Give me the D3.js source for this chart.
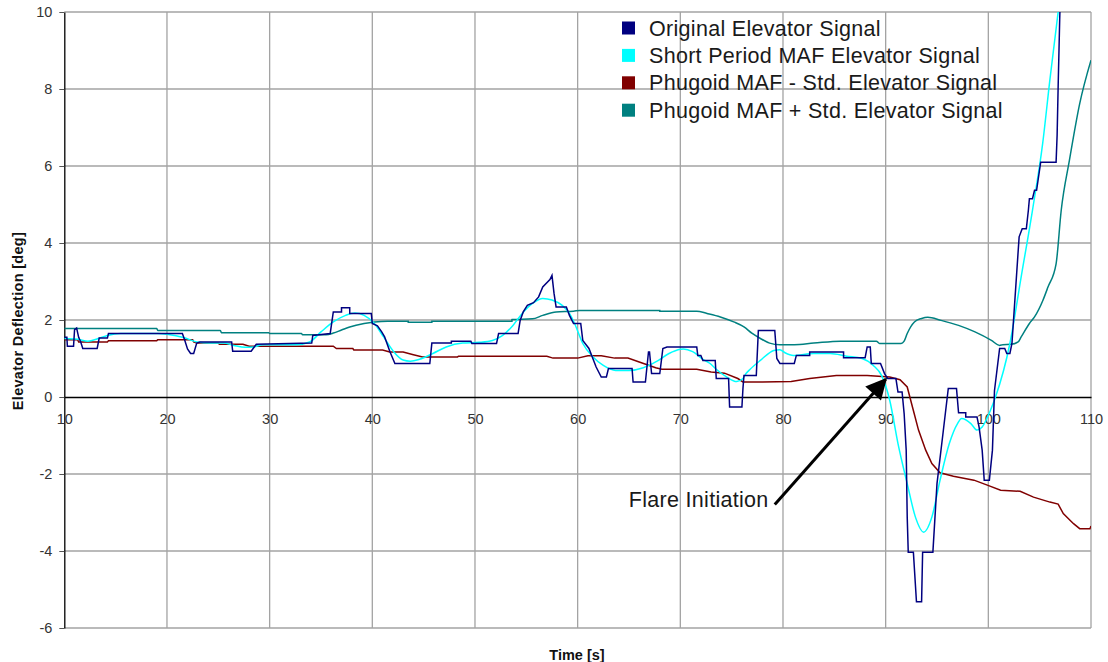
<!DOCTYPE html>
<html>
<head>
<meta charset="utf-8">
<script src="https://cdn.jsdelivr.net/npm/d3@7"></script>
<style>
  body { margin: 0; background: #fff; }
  text { font-family: "Liberation Sans", Arial, sans-serif; }
</style>
</head>
<body>
<script>
// series names + colours
var seriesNames = ["Original Elevator Signal", "Short Period MAF Elevator Signal",
                   "Phugoid MAF - Std. Elevator Signal", "Phugoid MAF + Std. Elevator Signal"];
var seriesColors = ["#000080", "#00ffff", "#800000", "#008080"];

var xTicks = [10, 20, 30, 40, 50, 60, 70, 80, 90, 100, 110];
var yTicks = [-6, -4, -2, 0, 2, 4, 6, 8, 10];

// original elevator signal [time, deg]
var original = [
  [10.0,1.55],[10.25,1.55],[10.3,1.32],[10.9,1.32],[11.0,1.75],[11.2,1.79],[11.4,1.55],[11.6,1.43],
  [11.8,1.26],[13.2,1.26],[13.4,1.53],[14.2,1.53],[14.3,1.65],[21.5,1.65],[21.7,1.50],[22.0,1.25],
  [22.3,1.13],[22.6,1.13],[22.9,1.40],[23.2,1.43],[26.3,1.43],[26.4,1.19],[28.2,1.19],[28.5,1.30],
  [28.7,1.37],[34.1,1.40],[34.2,1.60],[35.9,1.65],[36.2,2.21],[37.0,2.21],[37.0,2.32],[37.8,2.32],
  [37.8,2.17],[39.9,2.17],[40.0,1.91],[40.5,1.85],[40.9,1.70],[41.2,1.56],[41.7,1.19],[42.2,0.87],
  [45.6,0.87],[45.8,1.40],[47.7,1.40],[47.7,1.45],[49.6,1.45],[49.7,1.39],[52.1,1.39],[52.3,1.65],
  [54.2,1.65],[54.4,1.99],[54.7,2.21],[55.1,2.38],[55.7,2.45],[56.2,2.60],[56.6,2.86],[57.3,3.05],
  [57.5,3.16],[57.7,2.69],[57.9,2.34],[58.9,2.34],[59.2,2.12],[59.6,1.91],[60.3,1.91],[60.5,1.47],
  [61.1,1.26],[61.8,0.78],[62.3,0.52],[62.8,0.52],[63.0,0.74],[65.3,0.74],[65.4,0.39],[66.6,0.39],
  [66.9,1.17],[67.0,1.17],[67.2,0.61],[68.0,0.61],[68.3,1.26],[68.7,1.30],[71.6,1.30],[71.7,1.08],
  [72.0,1.08],[72.2,0.95],[73.4,0.95],[73.5,0.48],[74.7,0.48],[74.8,-0.26],[76.0,-0.26],[76.1,0.22],
  [76.2,0.56],[77.4,0.56],[77.6,1.73],[79.2,1.73],[79.4,1.00],[79.7,0.87],[81.1,0.87],[81.3,1.08],
  [82.6,1.08],[82.6,1.17],[85.9,1.17],[85.9,1.02],[88.0,1.02],[88.2,1.30],[88.5,1.30],[88.6,0.87],
  [89.5,0.87],[89.9,0.60],[90.2,0.48],[91.0,0.48],[91.2,0.13],[91.6,0.13],[91.8,-0.43],[92.0,-1.38],
  [92.1,-3.12],[92.2,-4.03],[92.7,-4.03],[93.0,-5.32],[93.5,-5.32],[93.6,-4.03],[94.6,-4.03],
  [95.0,-2.25],[95.6,-0.91],[96.1,0.22],[96.9,0.22],[97.1,-0.41],[97.8,-0.41],[97.8,-0.52],[98.9,-0.52],
  [99.1,-0.78],[99.4,-1.38],[99.6,-2.16],[100.1,-2.16],[100.4,-1.38],[100.6,0.17],[101.1,1.26],
  [101.6,1.26],[101.8,1.13],[102.1,1.13],[102.3,1.39],[103.0,4.16],[103.3,4.37],[103.7,4.37],
  [103.9,4.85],[104.0,5.15],[104.3,5.15],[104.5,5.37],[104.7,5.37],[105.1,6.10],[106.6,6.10],
  [106.7,6.80],[106.8,8.06],[106.95,9.79],[107.0,10.3]
];

// short period MAF elevator signal
var shortPeriod = [
  [10.0,1.52],[11.3,1.50],[12.3,1.45],[13.3,1.52],[14.2,1.60],[15.5,1.65],[19.1,1.65],[20.0,1.63],
  [21.7,1.54],[22.9,1.43],[24.2,1.40],[25.5,1.40],[26.5,1.34],[27.6,1.29],[28.5,1.30],[29.3,1.36],
  [32.6,1.36],[33.9,1.43],[35.0,1.69],[36.2,1.95],[37.4,2.12],[38.3,2.18],[39.2,2.12],[40.2,1.91],
  [41.1,1.56],[42.1,1.17],[43.0,0.96],[43.7,0.93],[44.6,0.98],[45.9,1.13],[47.2,1.30],[48.8,1.40],
  [50.4,1.42],[51.7,1.47],[52.7,1.60],[53.7,1.86],[54.6,2.17],[55.6,2.43],[56.6,2.56],[57.5,2.52],
  [58.5,2.38],[59.2,2.17],[59.7,1.91],[60.5,1.39],[61.5,1.04],[62.5,0.82],[63.7,0.69],[65.0,0.69],
  [66.4,0.76],[67.6,0.91],[68.9,1.13],[70.0,1.24],[70.3,1.25],[71.2,1.18],[72.2,0.98],[72.9,0.87],
  [73.5,0.72],[74.5,0.52],[75.5,0.40],[76.1,0.48],[76.4,0.61],[76.8,0.72],[77.8,0.95],[79.1,1.21],
  [79.7,1.23],[80.2,1.15],[81.0,1.08],[83.0,1.13],[84.6,1.13],[86.2,1.06],[87.7,1.00],[88.8,0.82],
  [89.6,0.56],[90.4,-0.09],[91.2,-1.21],[92.1,-2.25],[92.9,-3.12],[93.7,-3.51],[94.5,-3.12],
  [95.3,-2.16],[96.2,-1.21],[97.0,-0.69],[97.4,-0.56],[98.3,-0.69],[98.9,-0.86],[99.4,-0.78],
  [100.2,-0.35],[100.7,0.0],[102.1,1.39],[103.2,3.12],[104.3,4.85],[105.3,6.60],[106.0,8.25],
  [106.8,10.0],[107.0,10.4]
];

// phugoid MAF - std
var phugoidMinus = [
  [10.0,1.49],[11.3,1.49],[11.4,1.43],[14.2,1.43],[14.3,1.46],[19.0,1.46],[19.1,1.49],[22.5,1.49],
  [22.6,1.43],[22.9,1.40],[25.0,1.40],[25.1,1.37],[27.4,1.37],[28.0,1.32],[36.2,1.32],[36.5,1.26],
  [38.1,1.26],[38.2,1.22],[41.0,1.22],[41.7,1.17],[43.0,1.17],[44.0,1.10],[44.9,1.04],[48.3,1.04],
  [48.4,1.06],[57.0,1.06],[57.6,1.01],[60.0,1.01],[61.0,1.07],[62.3,1.07],[63.6,1.01],[64.9,1.01],
  [66.0,0.91],[67.6,0.76],[68.2,0.72],[71.6,0.72],[73.0,0.65],[74.3,0.62],[75.6,0.48],[76.1,0.39],
  [78.0,0.39],[80.8,0.40],[82.6,0.48],[85.2,0.56],[88.2,0.56],[90.4,0.52],[91.4,0.45],[92.1,0.26],
  [92.7,-0.35],[93.2,-0.86],[93.9,-1.38],[94.5,-1.73],[95.3,-1.97],[96.6,-2.06],[98.6,-2.16],
  [99.9,-2.29],[101.2,-2.42],[103.1,-2.45],[104.4,-2.60],[106.0,-2.73],[106.8,-2.78],[107.3,-3.03],
  [108.3,-3.29],[108.9,-3.42],[109.9,-3.42],[110.0,-3.35]
];

// phugoid MAF + std
var phugoidPlus = [
  [10.0,1.78],[19.0,1.78],[19.1,1.73],[25.2,1.73],[25.3,1.67],[29.9,1.67],[30.0,1.65],[33.1,1.65],
  [33.2,1.62],[35.5,1.62],[36.2,1.66],[37.0,1.74],[37.8,1.82],[39.2,1.91],[40.2,1.95],[41.5,1.97],
  [43.5,1.97],[43.5,1.94],[45.8,1.94],[45.8,1.97],[53.6,1.97],[53.6,2.01],[55.6,2.03],[56.6,2.12],
  [57.9,2.21],[59.6,2.23],[60.2,2.25],[68.0,2.25],[68.0,2.23],[71.6,2.23],[72.6,2.17],[73.9,2.08],
  [75.2,1.95],[76.2,1.82],[77.0,1.65],[77.8,1.52],[78.7,1.40],[79.7,1.36],[81.1,1.36],[83.0,1.40],
  [85.6,1.45],[89.1,1.45],[89.4,1.39],[91.5,1.39],[91.8,1.45],[92.1,1.65],[92.8,1.95],[93.5,2.04],
  [94.1,2.07],[95.4,1.99],[97.1,1.86],[98.7,1.69],[100.3,1.47],[101.1,1.34],[101.4,1.36],[102.2,1.37],
  [102.9,1.43],[103.2,1.56],[104.0,1.91],[104.5,2.08],[105.3,2.50],[105.8,2.85],[106.6,3.46],
  [107.1,4.85],[107.9,6.15],[108.9,7.62],[110.0,8.75]
];

var allSeries = [original, shortPeriod, phugoidMinus, phugoidPlus];

var width = 1108,
    height = 662;
var plotLeft = 64.3, plotRight = 1091, plotTop = 12, plotBottom = 628;

var x = d3.scaleLinear().domain([10, 110]).range([plotLeft, plotRight]);
var y = d3.scaleLinear().domain([-6, 10]).range([plotBottom, plotTop]);

var svg = d3.select("body").append("svg")
    .attr("width", width)
    .attr("height", height);

var defs = svg.append("defs");
defs.append("clipPath")
    .attr("id", "plotclip")
  .append("rect")
    .attr("x", plotLeft).attr("y", plotTop)
    .attr("width", plotRight - plotLeft).attr("height", plotBottom - plotTop);

// grid
svg.append("g")
    .selectAll("line")
    .data(xTicks.slice(1))
    .enter().append("line")
    .attr("x1", d => x(d)).attr("x2", d => x(d))
    .attr("y1", plotTop).attr("y2", plotBottom)
    .attr("stroke", "#a3a3a3").attr("stroke-width", 1.3);

svg.append("g")
    .selectAll("line")
    .data(yTicks.filter(d => d != 0))
    .enter().append("line")
    .attr("x1", plotLeft).attr("x2", plotRight)
    .attr("y1", d => y(d)).attr("y2", d => y(d))
    .attr("stroke", "#a3a3a3").attr("stroke-width", 1.3);

// y axis (plain hyphen minus like the original)
var yAxis = svg.append("g")
    .attr("transform", "translate(" + plotLeft + ",0)")
    .call(d3.axisLeft(y).tickValues(yTicks).tickFormat(d => String(d))
      .tickSize(5).tickPadding(7).tickSizeOuter(0));
yAxis.selectAll("text").attr("font-size", 14.5).attr("fill", "#333")
    .style("font-family", "'Liberation Sans', Arial, sans-serif");
yAxis.select(".domain").attr("stroke", "#000").attr("stroke-width", 1.3);
yAxis.selectAll(".tick line").attr("stroke", "#555");

// x axis along zero
var xAxis = svg.append("g")
    .attr("transform", "translate(0," + y(0) + ")")
    .call(d3.axisBottom(x).tickValues(xTicks).tickFormat(d => String(d))
      .tickSize(0).tickPadding(17).tickSizeOuter(0));
xAxis.selectAll("text").attr("font-size", 14.5).attr("fill", "#333")
    .style("font-family", "'Liberation Sans', Arial, sans-serif");
xAxis.select(".domain").attr("stroke", "#000").attr("stroke-width", 1.3);

// series lines
var line = d3.line()
    .x(d => x(d[0]))
    .y(d => y(d[1]));

svg.append("g")
    .attr("clip-path", "url(#plotclip)")
    .selectAll("path")
    .data([3, 2, 1, 0])
    .enter().append("path")
    .attr("fill", "none")
    .attr("stroke", i => seriesColors[i])
    .attr("stroke-width", 1.5)
    .attr("d", i => line.curve(i == 1 || i == 3 ? d3.curveMonotoneX : d3.curveLinear)(allSeries[i]));

// legend
var legend = svg.append("g").attr("transform", "translate(622,0)");
seriesNames.forEach(function(name, i) {
  var cy = 28 + i * 27.4;
  legend.append("rect")
      .attr("x", 0).attr("y", cy - 6.5)
      .attr("width", 13).attr("height", 13)
      .attr("fill", seriesColors[i]);
  legend.append("text")
      .attr("x", 27).attr("y", cy + 7.5)
      .attr("font-size", 21.5)
      .attr("letter-spacing", 0.3)
      .attr("fill", "#1a1a1a")
      .text(name);
});

// axis titles
svg.append("text")
    .attr("transform", "translate(23,321) rotate(-90)")
    .attr("text-anchor", "middle")
    .attr("font-size", 14.5)
    .attr("letter-spacing", 0.3)
    .attr("font-weight", "bold")
    .attr("fill", "#111")
    .text("Elevator Deflection [deg]");

svg.append("text")
    .attr("x", 577).attr("y", 660)
    .attr("text-anchor", "middle")
    .attr("font-size", 14.5)
    .attr("font-weight", "bold")
    .attr("fill", "#111")
    .text("Time [s]");

// annotation
defs.append("marker")
    .attr("id", "arrowhead")
    .attr("viewBox", "0 0 10 10")
    .attr("refX", 9).attr("refY", 5)
    .attr("markerWidth", 9).attr("markerHeight", 7)
    .attr("markerUnits", "strokeWidth")
    .attr("orient", "auto")
  .append("path")
    .attr("d", "M0,0 L10,5 L0,10 Z")
    .attr("fill", "#000");

svg.append("line")
    .attr("x1", x(79.2)).attr("y1", y(-2.79))
    .attr("x2", x(90.0)).attr("y2", y(0.46))
    .attr("stroke", "#000")
    .attr("stroke-width", 3)
    .attr("marker-end", "url(#arrowhead)");

svg.append("text")
    .attr("x", x(78.6)).attr("y", y(-2.86))
    .attr("text-anchor", "end")
    .attr("font-size", 21.5)
    .attr("letter-spacing", 0.3)
    .attr("fill", "#1a1a1a")
    .text("Flare Initiation");
</script>
</body>
</html>
